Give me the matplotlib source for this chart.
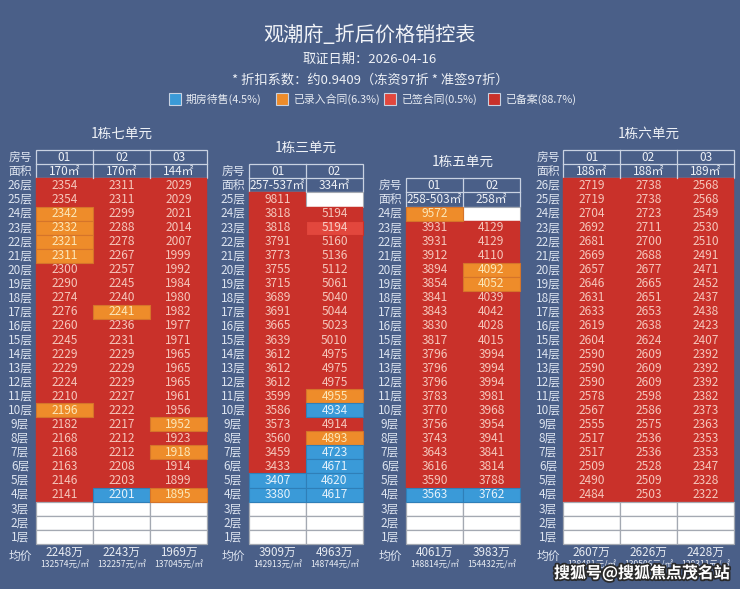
import matplotlib.pyplot as plt
from matplotlib.patches import Rectangle
import matplotlib.patheffects as pe

plt.rcParams['font.family'] = ['Noto Sans CJK SC', 'DejaVu Sans']

# ---- text ----
title = '观潮府_折后价格销控表'
subtitle = '取证日期：2026-04-16'
discount = '* 折扣系数：约0.9409（冻资97折 * 准签97折）'
legend_labels = ['期房待售(4.5%)', '已录入合同(6.3%)', '已签合同(0.5%)', '已备案(88.7%)']
watermark = '搜狐号@搜狐焦点茂名站'

# ---- data: prices from the top floor down to 4层 (None = empty cell) ----
# status overrides per column, default is 'r' (已备案)
u7_name = '1栋七单元'
u7_rooms = ['01', '02', '03']
u7_areas = ['170㎡', '170㎡', '144㎡']
u7_top = 26
u7_prices = [
    [2354, 2354, 2342, 2332, 2321, 2311, 2300, 2290, 2274, 2276, 2260, 2245,
     2229, 2229, 2224, 2210, 2196, 2182, 2168, 2168, 2163, 2146, 2141],
    [2311, 2311, 2299, 2288, 2278, 2267, 2257, 2245, 2240, 2241, 2236, 2231,
     2229, 2229, 2229, 2227, 2222, 2217, 2212, 2212, 2208, 2203, 2201],
    [2029, 2029, 2021, 2014, 2007, 1999, 1992, 1984, 1980, 1982, 1977, 1971,
     1965, 1965, 1965, 1961, 1956, 1952, 1923, 1918, 1914, 1899, 1895],
]
u7_status = [{24: 'o', 23: 'o', 22: 'o', 21: 'o', 10: 'o'},
             {17: 'o', 4: 'b'},
             {9: 'o', 7: 'o', 4: 'o'}]
u7_avg = ['2248万', '2243万', '1969万']
u7_unit = ['132574元/㎡', '132257元/㎡', '137045元/㎡']

u3_name = '1栋三单元'
u3_rooms = ['01', '02']
u3_areas = ['257-537㎡', '334㎡']
u3_top = 25
u3_prices = [
    [9811, 3818, 3818, 3791, 3773, 3755, 3715, 3689, 3691, 3665, 3639,
     3612, 3612, 3612, 3599, 3586, 3573, 3560, 3459, 3433, 3407, 3380],
    [None, 5194, 5194, 5160, 5136, 5112, 5061, 5040, 5044, 5023, 5010,
     4975, 4975, 4975, 4955, 4934, 4914, 4893, 4723, 4671, 4620, 4617],
]
u3_status = [{5: 'b', 4: 'b'},
             {23: 's', 11: 'o', 10: 'b', 8: 'o', 7: 'b', 6: 'b', 5: 'b', 4: 'b'}]
u3_avg = ['3909万', '4963万']
u3_unit = ['142913元/㎡', '148744元/㎡']

u5_name = '1栋五单元'
u5_rooms = ['01', '02']
u5_areas = ['258-503㎡', '258㎡']
u5_top = 24
u5_prices = [
    [9572, 3931, 3931, 3912, 3894, 3854, 3841, 3843, 3830, 3817, 3796,
     3796, 3796, 3783, 3770, 3756, 3743, 3643, 3616, 3590, 3563],
    [None, 4129, 4129, 4110, 4092, 4052, 4039, 4042, 4028, 4015, 3994,
     3994, 3994, 3981, 3968, 3954, 3941, 3841, 3814, 3788, 3762],
]
u5_status = [{24: 'o', 4: 'b'}, {20: 'o', 19: 'o', 4: 'b'}]
u5_avg = ['4061万', '3983万']
u5_unit = ['148814元/㎡', '154432元/㎡']

u6_name = '1栋六单元'
u6_rooms = ['01', '02', '03']
u6_areas = ['188㎡', '188㎡', '189㎡']
u6_top = 26
u6_prices = [
    [2719, 2719, 2704, 2692, 2681, 2669, 2657, 2646, 2631, 2633, 2619, 2604,
     2590, 2590, 2590, 2578, 2567, 2555, 2517, 2517, 2509, 2490, 2484],
    [2738, 2738, 2723, 2711, 2700, 2688, 2677, 2665, 2651, 2653, 2638, 2624,
     2609, 2609, 2609, 2598, 2586, 2575, 2536, 2536, 2528, 2509, 2503],
    [2568, 2568, 2549, 2530, 2510, 2491, 2471, 2452, 2437, 2438, 2423, 2407,
     2392, 2392, 2392, 2382, 2373, 2363, 2353, 2353, 2347, 2328, 2322],
]
u6_status = [{}, {}, {}]
u6_avg = ['2607万', '2626万', '2428万']
u6_unit = ['138481元/㎡', '139506元/㎡', '128311元/㎡']

# ---- style ----
BG = '#4a5f88'
FILL = {'b': '#3a9ad8', 'o': '#ee8c2a', 's': '#e2473d', 'r': '#c9312a'}
EDGE = {'b': '#2f7fb8', 'o': '#d5742a', 's': '#c9312a', 'r': '#c9312a'}
TXT = {'b': '#e3f1fb', 'o': '#fbe7b8', 's': '#f7cfc6', 'r': '#f5c6bb'}
LIGHT = '#dde4f0'

ROW_H = 14.05
Y_FLOOR1 = 536.7
COL_W = 57.0


def fy(floor):
    return Y_FLOOR1 - (floor - 1) * ROW_H


fig = plt.figure(figsize=(7.4, 5.89), dpi=100, facecolor=BG)
ax = fig.add_axes([0, 0, 1, 1])
ax.set_xlim(0, 740)
ax.set_ylim(589, 0)
ax.axis('off')
ax.set_facecolor(BG)

ax.text(370, 35, title, ha='center', va='center', fontsize=14.5, color='#f2f4f8')
ax.text(370, 59, subtitle, ha='center', va='center', fontsize=9.5, color='#eef1f6')
ax.text(370, 80, discount, ha='center', va='center', fontsize=9.5, color='#eef1f6')

leg_x = [169, 276, 384, 488]
for lx, key, lab in zip(leg_x, ['b', 'o', 's', 'r'], legend_labels):
    ax.add_patch(Rectangle((lx, 93), 12, 12, facecolor=FILL[key],
                           edgecolor='#c9d2e2', lw=0.8))
    ax.text(lx + 17, 99.5, lab, ha='left', va='center', fontsize=7.8, color='#e8ecf3')


def draw_unit(x0, name, rooms, areas, top, prices, status, avg, unit, lab_x):
    ncol = len(rooms)
    xc = [x0 + (i + 0.5) * COL_W for i in range(ncol)]
    # unit title
    ax.text(x0 + ncol * COL_W / 2, fy(top + 2) - 24, name, ha='center', va='center',
            fontsize=9.8, color='#eef1f6')
    # header box
    y_top = fy(top + 2) - ROW_H / 2
    y_bot = fy(top + 1) + ROW_H / 2
    ax.add_patch(Rectangle((x0, y_top), ncol * COL_W, y_bot - y_top,
                           facecolor='none', edgecolor='#c9d2e2', lw=0.9))
    ax.plot([x0, x0 + ncol * COL_W], [fy(top + 1) - ROW_H / 2] * 2,
            color='#c9d2e2', lw=0.9)
    for i in range(1, ncol):
        ax.plot([x0 + i * COL_W] * 2, [y_top, y_bot], color='#c9d2e2', lw=0.9)
    ax.text(lab_x, fy(top + 2), '房号', ha='center', va='center', fontsize=8.5, color=LIGHT)
    ax.text(lab_x, fy(top + 1), '面积', ha='center', va='center', fontsize=8.5, color=LIGHT)
    for i in range(ncol):
        ax.text(xc[i], fy(top + 2), rooms[i], ha='center', va='center', fontsize=8.5,
                color='#eef1f6')
        ax.text(xc[i], fy(top + 1), areas[i], ha='center', va='center', fontsize=8.5,
                color='#eef1f6')
    # floors
    for f in range(top, 0, -1):
        ax.text(lab_x, fy(f), f'{f}层', ha='center', va='center', fontsize=8.5, color=LIGHT)
    # cells
    for i in range(ncol):
        for k, p in enumerate(prices[i]):
            f = top - k
            left = x0 + i * COL_W
            if p is None:
                ax.add_patch(Rectangle((left, fy(f) - ROW_H / 2), COL_W, ROW_H,
                                       facecolor='white', edgecolor='#a4a9b2', lw=0.8))
                continue
            s = status[i].get(f, 'r')
            ax.add_patch(Rectangle((left, fy(f) - ROW_H / 2), COL_W, ROW_H,
                                   facecolor=FILL[s], edgecolor=EDGE[s],
                                   lw=0.8 if s != 'r' else 0.3, zorder=2 if s != 'r' else 1))
            ax.text(xc[i], fy(f), str(p), ha='center', va='center', fontsize=8.6,
                    color=TXT[s], zorder=3)
        for f in range(3, 0, -1):
            ax.add_patch(Rectangle((x0 + i * COL_W, fy(f) - ROW_H / 2), COL_W, ROW_H,
                                   facecolor='white', edgecolor='#a4a9b2', lw=0.9))
    # averages
    ax.text(lab_x, fy(1) + 20, '均价', ha='center', va='center', fontsize=8.5, color=LIGHT)
    for i in range(ncol):
        ax.text(xc[i], fy(1) + 16, avg[i], ha='center', va='center', fontsize=8.4,
                color='#e8ecf3')
        ax.text(xc[i], fy(1) + 28, unit[i], ha='center', va='center', fontsize=6.2,
                color='#e8ecf3')


draw_unit(36, u7_name, u7_rooms, u7_areas, u7_top, u7_prices, u7_status,
          u7_avg, u7_unit, 20)
draw_unit(249, u3_name, u3_rooms, u3_areas, u3_top, u3_prices, u3_status,
          u3_avg, u3_unit, 233)
draw_unit(406, u5_name, u5_rooms, u5_areas, u5_top, u5_prices, u5_status,
          u5_avg, u5_unit, 390)
draw_unit(563, u6_name, u6_rooms, u6_areas, u6_top, u6_prices, u6_status,
          u6_avg, u6_unit, 548)

# watermark sits over the 六单元 averages, as in the source picture
ax.text(642, 573, watermark, ha='center', va='center', fontsize=11.5,
        fontweight='bold', color='white', zorder=5,
        path_effects=[pe.withStroke(linewidth=2.5, foreground='#2a2a2a')])

fig.savefig('out.png', dpi=100, facecolor=BG)
